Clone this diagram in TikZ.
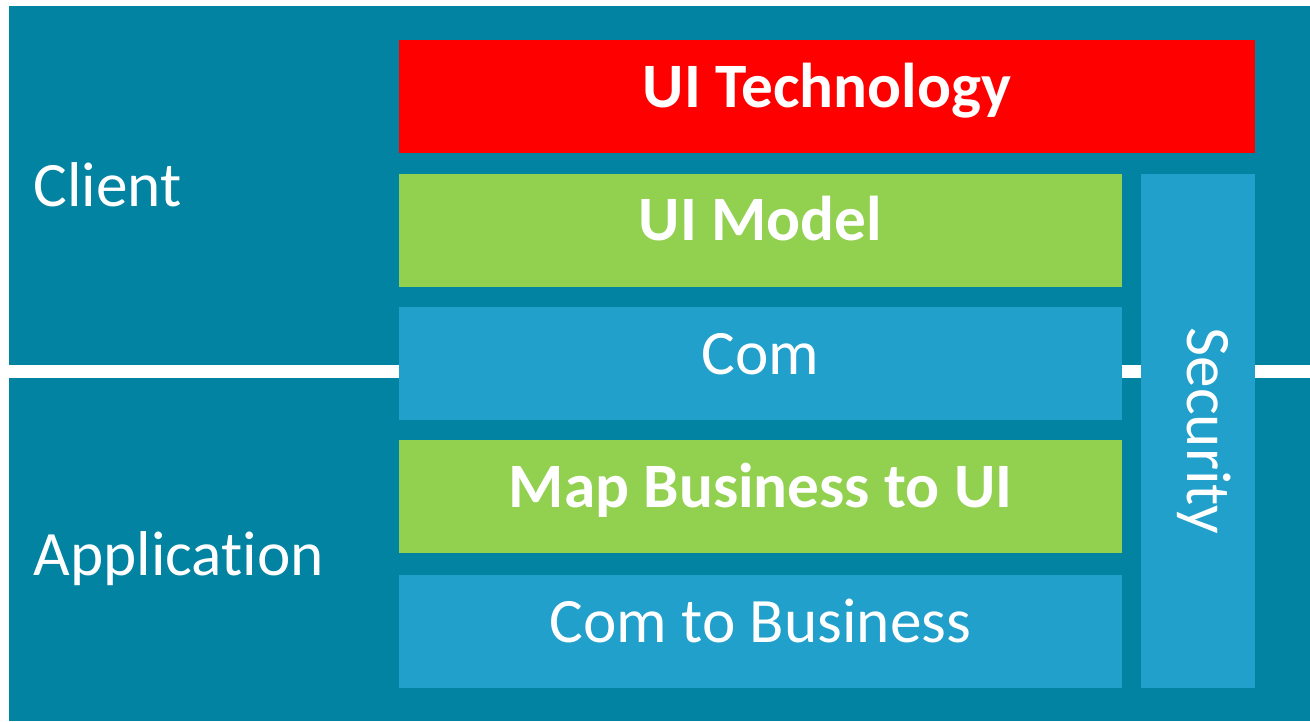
\documentclass[tikz,border=0pt]{standalone}
\usepackage{fontspec}
\setmainfont[Ligatures=NoCommon]{Carlito}
\definecolor{LayerTeal}{RGB}{2, 131, 161}
\definecolor{BoxBlue}{RGB}{33, 160, 203}
\definecolor{BoxGreen}{RGB}{146, 208, 80}
\definecolor{BoxRed}{RGB}{255, 0, 0}
\usetikzlibrary{positioning}

\begin{document}
\begin{tikzpicture}[
        layerbox/.style={rectangle, inner sep=0pt, text=white, font=\fontsize{18}{20}\selectfont,
            text height=0.41cm, text depth=0.2cm},
        boldbox/.style={layerbox, font=\fontsize{18}{20}\selectfont\bfseries},
        sidelabel/.style={anchor=base west, inner sep=0pt, text=white, font=\fontsize{18}{20}\selectfont}
    ]
        \useasboundingbox (0,0) rectangle (13.10,7.21);
        \fill[LayerTeal] (0.09,0) rectangle (13.10,7.15);
        \fill[white] (0.09,3.43) rectangle (13.10,3.56);

        \node[sidelabel] (client) at (0.33,5.14) {Client};
        \node[sidelabel] (app) at (0.33,1.46) {Application};

        \node[boldbox, fill=BoxRed, minimum width=8.56cm, minimum height=1.13cm] (uitech) at (8.27,6.245) {UI Technology};
        \node[boldbox, fill=BoxGreen, minimum width=7.23cm, minimum height=1.13cm] (uimodel) at (7.605,4.905) {UI Model};
        \node[layerbox, fill=BoxBlue, minimum width=7.23cm, minimum height=1.13cm] (com) at (7.605,3.575) {Com};
        \node[boldbox, fill=BoxGreen, minimum width=7.23cm, minimum height=1.13cm] (mapbiz) at (7.605,2.245) {Map Business to UI};
        \node[layerbox, fill=BoxBlue, minimum width=7.23cm, minimum height=1.13cm] (combiz) at (7.605,0.895) {Com to Business};

        \node[layerbox, fill=BoxBlue, rotate=-90, minimum width=5.14cm, minimum height=1.14cm] (security) at (11.98,2.90) {Security};
    \end{tikzpicture}
\end{document}
